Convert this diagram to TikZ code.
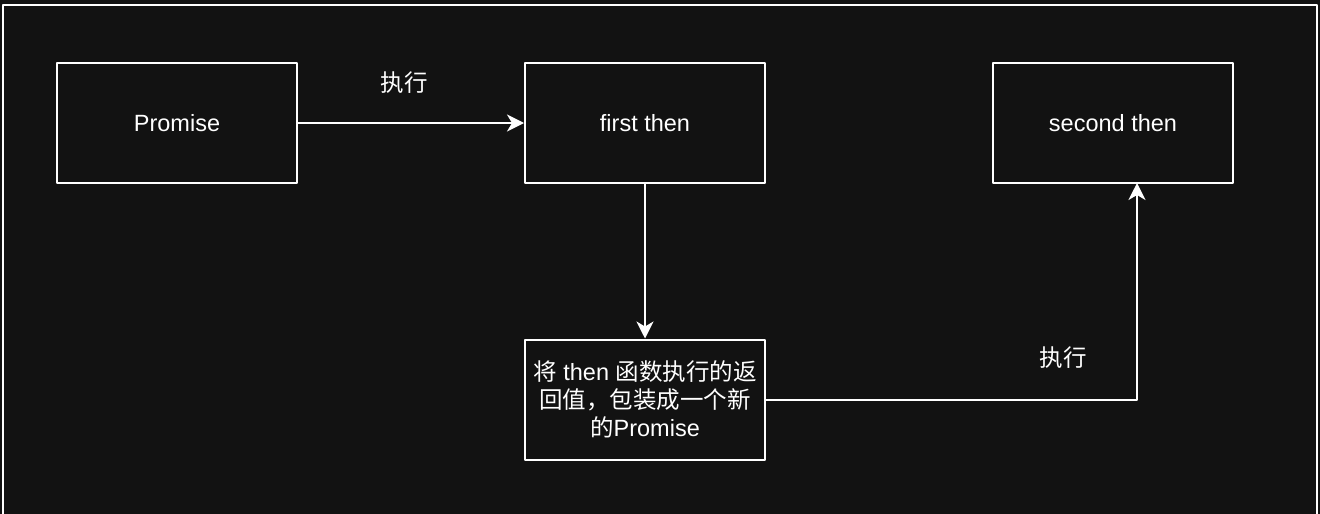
\documentclass[tikz,border=0pt]{standalone}
\usepackage{fontspec}
\setmainfont{Liberation Sans}
\newfontfamily\cjk{Noto Sans CJK SC}
\usetikzlibrary{arrows.meta}
\definecolor{bgdark}{HTML}{121212}
\begin{document}
\begin{tikzpicture}[x=1pt,y=-1pt,>={Stealth[length=17pt,width=17pt,inset=5pt]},line join=round,
	font=\fontsize{23.5}{28}\selectfont,
	box/.style={draw=white,line width=2pt,text=white,minimum width=240pt,minimum height=120pt,align=center,inner sep=2pt},
	lbl/.style={text=white,inner sep=0pt},
	link/.style={->,draw=white,line width=2pt}]
	\fill[bgdark] (0,0) rectangle (1320,514);
	\useasboundingbox (0,0) rectangle (1320,514);
	\draw[white,line width=2pt] (3,514)--(3,5)--(1317,5)--(1317,514);
	\node[box] (promise) at (177,123) {Promise};
	\node[box] (first) at (645,123) {first then};
	\node[box] (second) at (1113,123) {second then};
	\node[box] (wrap) at (645,399.5) {{\cjk 将} then {\cjk 函数执行的返}\\{\cjk 回值，包装成一个新}\\{\cjk 的}Promise};
	\coordinate (up) at (1137,183);
	\draw[link] (promise.east)--(first.west);
	\draw[link] (first.south)--(wrap.north);
	\draw[link] (wrap.east)-|(up);
	\node[lbl] (run1) at (404,83) {\cjk 执行};
	\node[lbl] (run2) at (1063,358) {\cjk 执行};
\end{tikzpicture}
\end{document}
